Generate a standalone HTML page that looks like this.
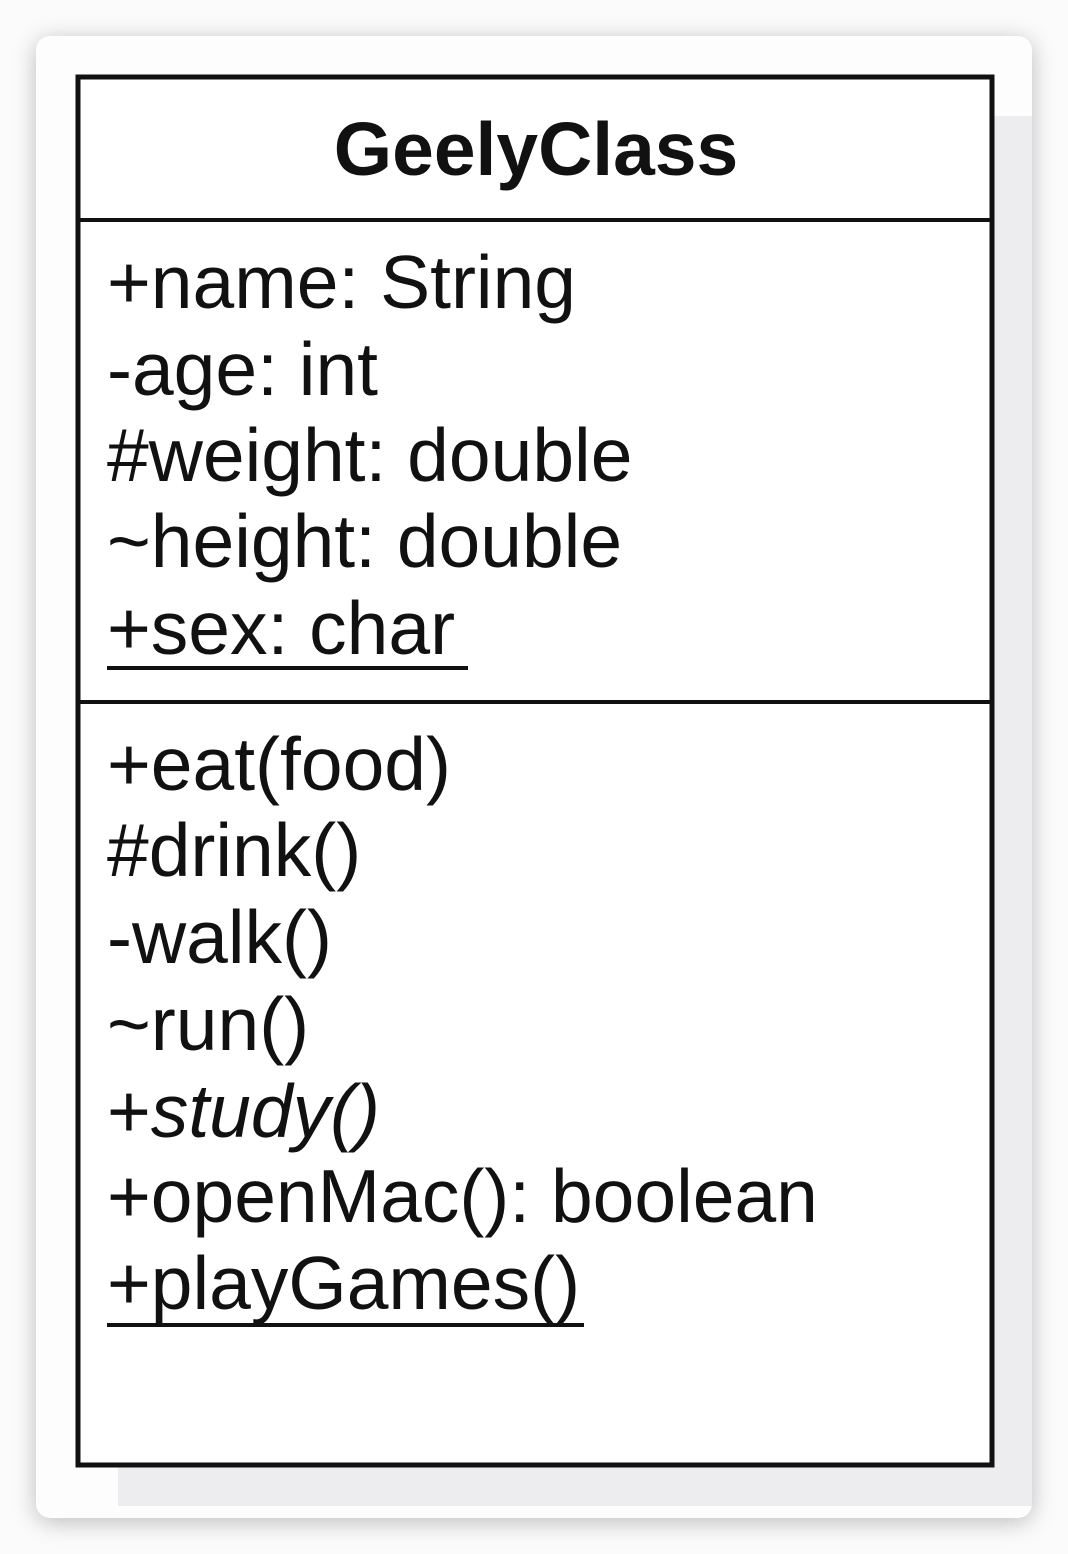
<!DOCTYPE html>
<html><head><meta charset="utf-8"><style>
html,body{margin:0;padding:0;background:#fff;}
svg{display:block;}
text{font-family:"Liberation Sans",Arial,sans-serif;fill:#111;}
</style></head><body>
<svg width="1068" height="1554" viewBox="0 0 1068 1554" xmlns="http://www.w3.org/2000/svg">
<defs>
<filter id="sh" x="-10%" y="-10%" width="120%" height="120%"><feGaussianBlur stdDeviation="12"/></filter>
</defs>
<rect width="1068" height="1554" fill="#fbfbfb"/>
<rect x="36" y="40" width="996" height="1482" rx="14" fill="#000" opacity="0.25" filter="url(#sh)"/>
<rect x="36" y="36" width="996" height="1482" rx="14" fill="#fdfdfd"/>
<rect x="118" y="116" width="914" height="1390" fill="#ededef"/>
<rect x="78" y="77" width="914" height="1388" fill="#fff" stroke="#111" stroke-width="5"/>
<line x1="78" y1="220" x2="992" y2="220" stroke="#111" stroke-width="4"/>
<line x1="78" y1="702" x2="992" y2="702" stroke="#111" stroke-width="4"/>
<text x="536" y="175" text-anchor="middle" font-size="75" font-weight="bold">GeelyClass</text>
<g font-size="75">
<text x="107" y="308">+name: String</text>
<text x="107" y="395">-age: int</text>
<text x="107" y="481">#weight: double</text>
<text x="107" y="567">~height: double</text>
<text x="107" y="654">+sex: char</text>
<text x="107" y="790">+eat(food)</text>
<text x="107" y="876">#drink()</text>
<text x="107" y="963">-walk()</text>
<text x="107" y="1050">~run()</text>
<text x="107" y="1137">+<tspan font-style="italic">study()</tspan></text>
<text x="107" y="1222">+openMac(): boolean</text>
<text x="107" y="1309">+playGames()</text>
</g>
<line x1="107" y1="668" x2="468" y2="668" stroke="#111" stroke-width="4"/>
<line x1="107" y1="1325" x2="584" y2="1325" stroke="#111" stroke-width="4"/>
</svg>
</body></html>
